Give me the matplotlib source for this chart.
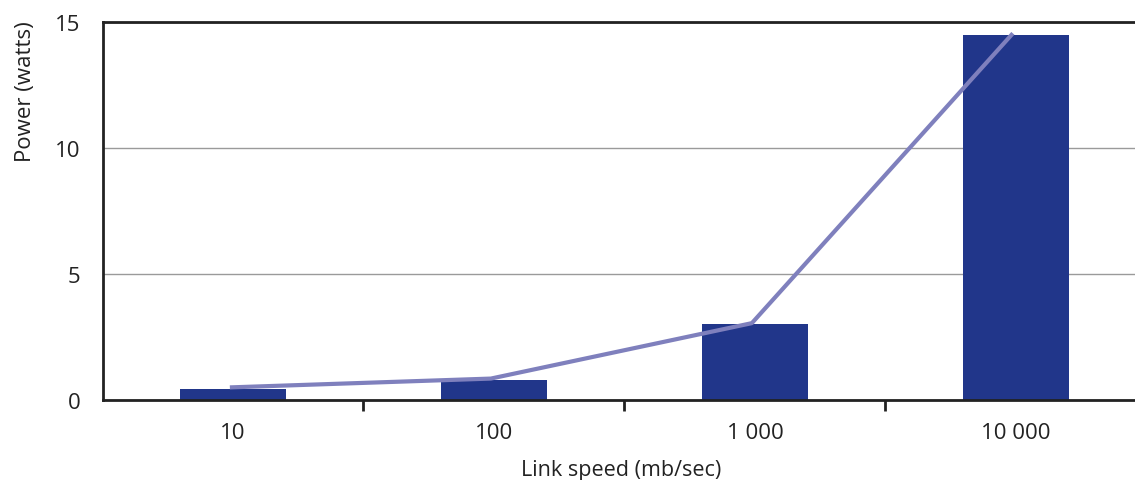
import matplotlib.pyplot as plt
import numpy as np

speeds = ["10", "100", "1 000", "10 000"]
bar_power = [0.45, 0.8, 3.0, 14.5]
line_power = [0.5, 0.85, 3.05, 14.55]

BAR_COLOR = "#21368a"
LINE_COLOR = "#7f80bd"

plt.rcParams['font.family'] = ['Open Sans', 'DejaVu Sans']

fig = plt.figure(figsize=(11.35, 4.81), dpi=100)
ax = fig.add_axes([102.5 / 1135, 80 / 481, 1044 / 1135, 378 / 481])

x = np.arange(len(speeds))
ax.bar(x, bar_power, width=0.405, color=BAR_COLOR, zorder=2)
ax.plot(x - 0.012, line_power, color=LINE_COLOR, lw=3, zorder=3, solid_capstyle='butt')

ax.set_xlim(-0.5, 3.5)
ax.set_ylim(0, 15)

# grid
ax.set_yticks([0, 5, 10, 15])
ax.yaxis.grid(True, color="#9a9a9a", lw=1)
ax.set_axisbelow(True)
ax.tick_params(axis='y', length=0, pad=16, labelsize=16, colors="#222222")

# x ticks at category boundaries, labels at centres
ax.set_xticks([0.5, 1.5, 2.5])
ax.set_xticklabels([])
ax.tick_params(axis='x', which='major', length=8, width=2, direction='out', color="#222222")
ax.set_xticks(x, minor=True)
ax.set_xticklabels(speeds, minor=True)
ax.tick_params(axis='x', which='minor', length=0, pad=16, labelsize=16, labelcolor="#222222")

for side in ['left', 'top', 'bottom']:
    ax.spines[side].set_color("#222222")
    ax.spines[side].set_linewidth(2)
ax.spines['right'].set_visible(False)

# y label sits near the top, like the original
ax.set_ylabel("Power (watts)", fontsize=16, color="#222222")
ax.yaxis.set_label_coords(-67 / 1044, (401 - 92) / 378)
ax.set_xlabel("Link speed (mb/sec)", fontsize=15.5, color="#222222")
ax.xaxis.set_label_coords((621 - 102.5) / 1044, -0.155)

fig.savefig("out.png", dpi=100)
